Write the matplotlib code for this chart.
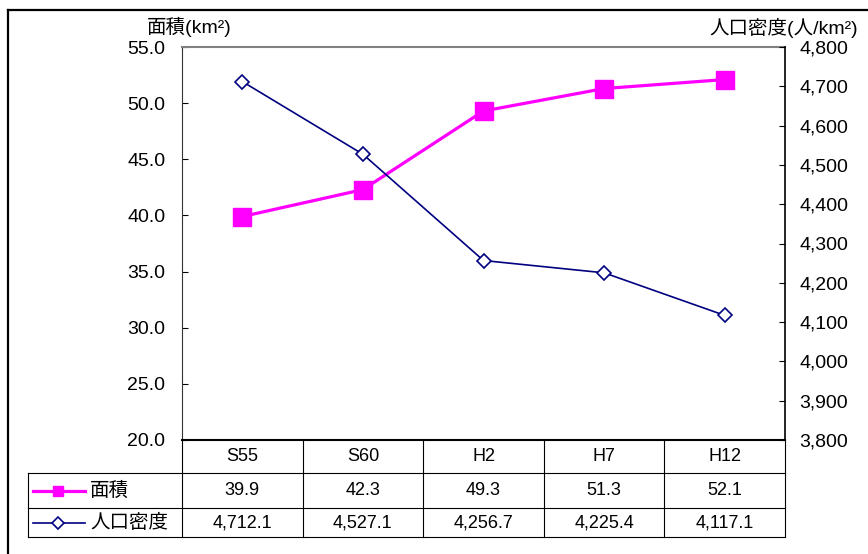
import numpy as np
import matplotlib.pyplot as plt
from matplotlib.lines import Line2D

categories = ['S55', 'S60', 'H2', 'H7', 'H12']
area = [39.9, 42.3, 49.3, 51.3, 52.1]
density = [4712.1, 4527.1, 4256.7, 4225.4, 4117.1]
series_names = ['面積', '人口密度']

plt.rcParams['font.family'] = ['Liberation Sans', 'Noto Sans CJK JP', 'DejaVu Sans']

W, H = 868, 554
fig = plt.figure(figsize=(W / 100, H / 100), dpi=100)

# plot area in pixels: x 182..785, y 47..440
ax = fig.add_axes([182 / W, 1 - 440 / H, 603 / W, 393 / H])
ax2 = ax.twinx()

x = np.arange(len(categories))
ax.plot(x, area, color='#FF00FF', lw=2.3, marker='s', ms=12.5, zorder=3)
ax2.plot(x, density, color='#000080', lw=1.2, marker='D', ms=7,
         mfc='white', mec='#000080', mew=1.2, zorder=3)

ax.set_xlim(-0.5, len(categories) - 0.5)
ax.set_ylim(20, 55)
ax.set_yticks(np.arange(20, 55.1, 5))
ax.set_yticklabels([f'{v:.1f}' for v in np.arange(20, 55.1, 5)])
ax2.set_ylim(3800, 4800)
ax2.set_yticks(np.arange(3800, 4801, 100))
ax2.set_yticklabels([f'{v:,.0f}' for v in np.arange(3800, 4801, 100)])
ax.set_xticks([])

ax.tick_params(axis='y', direction='in', length=4, labelsize=14, pad=12)
ax2.tick_params(axis='y', direction='in', length=4, labelsize=14, pad=10.5)

for s in ['left', 'top', 'bottom', 'right']:
    ax2.spines[s].set_visible(s == 'right')
ax.spines['right'].set_visible(False)
ax.spines['top'].set_color('#808080')
ax.spines['top'].set_linewidth(1.5)
ax.spines['left'].set_color('#333333')
ax.spines['bottom'].set_linewidth(1.5)
ax2.spines['right'].set_linewidth(1.2)

fig.text(189 / W, 1 - 27 / H, '面積(km²)', ha='center', va='center', fontsize=14)
fig.text(858 / W, 1 - 28 / H, '人口密度(人/km²)', ha='right', va='center', fontsize=14)

# data table below the plot
tr = ax.get_xaxis_transform()
ppx = 603 / len(categories)
def ax_y(py):
    return (440 - py) / 393
def dx(px):
    return (px - 182) / ppx - 0.5

y_h, y_1, y_2 = ax_y(473), ax_y(508), ax_y(537)
x_left = dx(28)
lkw = dict(color='black', lw=0.8, transform=tr, clip_on=False)

for e in np.arange(-0.5, len(categories), 1.0):
    ax.plot([e, e], [0, y_2], **lkw)
ax.plot([x_left, x_left], [y_h, y_2], **lkw)
for yy in [y_h, y_1, y_2]:
    ax.plot([x_left, len(categories) - 0.5], [yy, yy], **lkw)

for i, c in enumerate(categories):
    ax.text(i, (0 + y_h) / 2, c, ha='center', va='center', fontsize=13, transform=tr)
    ax.text(i, (y_h + y_1) / 2, f'{area[i]:.1f}', ha='center', va='center', fontsize=13, transform=tr)
    ax.text(i, (y_1 + y_2) / 2, f'{density[i]:,.1f}', ha='center', va='center', fontsize=13, transform=tr)

# legend keys inside the table
ky1, ky2 = (y_h + y_1) / 2, (y_1 + y_2) / 2
ax.plot([dx(33), dx(85)], [ky1, ky1], color='#FF00FF', lw=2.3, transform=tr, clip_on=False)
ax.plot([dx(58)], [ky1], marker='s', ms=7, color='#FF00FF', transform=tr, clip_on=False)
ax.plot([dx(33), dx(85)], [ky2, ky2], color='#000080', lw=1.2, transform=tr, clip_on=False)
ax.plot([dx(58)], [ky2], marker='D', ms=6, mfc='white', mec='#000080', mew=1.2,
        transform=tr, clip_on=False)
ax.text(dx(90), ky1, series_names[0], ha='left', va='center', fontsize=14, transform=tr)
ax.text(dx(90), ky2, series_names[1], ha='left', va='center', fontsize=14, transform=tr)

# outer chart border (left and top visible)
fig.add_artist(Line2D([8 / W, 8 / W], [0, 1 - 10 / H], color='black', lw=1.6))
fig.add_artist(Line2D([8 / W, 1], [1 - 10 / H, 1 - 10 / H], color='black', lw=1.6))

fig.savefig('out.png', dpi=100)
